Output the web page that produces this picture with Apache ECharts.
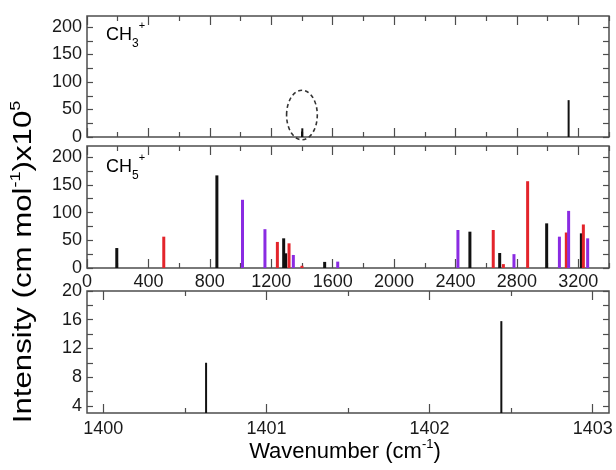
<!DOCTYPE html>
<html><head><meta charset="utf-8">
<script src="https://cdn.jsdelivr.net/npm/echarts@6/dist/echarts.min.js"></script>
<style>html,body{margin:0;padding:0;background:#fff}#c{width:616px;height:470px}</style>
</head><body><div id="c"></div>
<script>
// ---- data ----
const ch3Wavenumber = [1400.63, 1402.44, 3137];
const ch3Intensity  = [10, 15.8, 67];

const ch5BlackX  = [194, 846, 1281, 1294, 1548, 2494, 2688, 2994, 3220];
const ch5BlackY  = [36, 167, 53.5, 26.5, 11, 65.5, 27, 80.5, 62.5];
const ch5RedX    = [500, 1240, 1316, 1400, 2646, 2712, 2870, 3122, 3233];
const ch5RedY    = [56.5, 47, 44.5, 4, 68.5, 7, 156.5, 64, 78.5];
const ch5PurpleX = [1013, 1159, 1344, 1633, 2416, 2781, 3077, 3137, 3261];
const ch5PurpleY = [123, 70, 23.5, 11.5, 68.5, 25, 56.5, 103, 53.5];

const zoomWavenumber = [1400.63, 1402.44];
const zoomIntensity  = [10, 15.8];

// ---- ticks ----
const wideMajorTicks = [0, 400, 800, 1200, 1600, 2000, 2400, 2800, 3200];
const wideMinorTicks = [200, 600, 1000, 1400, 1800, 2200, 2600, 3000, 3400];
const intensityLabels = [0, 50, 100, 150, 200];
const intensityTicks  = [0, 25, 50, 75, 100, 125, 150, 175, 200];
const zoomMajorTicks = [1400, 1401, 1402, 1403];
const zoomMinorTicks = [1400.5, 1401.5, 1402.5];
const zoomYLabels = [4, 8, 12, 16, 20];
const zoomYTicks  = [4, 6, 8, 10, 12, 14, 16, 18, 20];

// ---- annotation (circled peak: centre and radii in data units) ----
const circledPeak = [[1400, 40, 100, 45]];

const FONT = '"Liberation Sans", Arial, Helvetica, sans-serif';
const FRAME = '#4d4d4d';
const TXT = '#1a1a1a';

function pairs(xs, ys) { return xs.map((x, i) => [x, ys[i]]); }

function axis(gridIndex, position, min, max, ticks, len, labels, margin) {
  return {
    type: 'value', gridIndex, position, min, max,
    axisLine: { show: false, onZero: false },
    splitLine: { show: false },
    axisTick: { show: true, inside: true, length: len, customValues: ticks,
                lineStyle: { color: FRAME, width: 1.2 } },
    axisLabel: labels ? { show: true, customValues: labels, margin: margin,
                fontSize: 18, color: TXT, fontFamily: FONT,
                formatter: v => String(v) } : { show: false }
  };
}

const xAxes = [], yAxes = [];
// grid 0 (CH3+) and grid 1 (CH5+): x 0..3400
for (let g = 0; g < 2; g++) {
  xAxes.push(axis(g, 'bottom', 0, 3400, wideMajorTicks, 9, g === 1 ? wideMajorTicks : null, 5));
  xAxes.push(axis(g, 'bottom', 0, 3400, wideMinorTicks, 5, null));
  xAxes.push(axis(g, 'top', 0, 3400, wideMajorTicks, 9, null));
  xAxes.push(axis(g, 'top', 0, 3400, wideMinorTicks, 5, null));
  yAxes.push(axis(g, 'left', 0, 220, intensityTicks, 6, intensityLabels, 5));
  yAxes.push(axis(g, 'right', 0, 220, intensityTicks, 6, null));
}
// grid 2 zoom
xAxes.push(axis(2, 'bottom', 1399.9, 1403.1, zoomMajorTicks, 9, zoomMajorTicks, 7));
xAxes.push(axis(2, 'bottom', 1399.9, 1403.1, zoomMinorTicks, 5, null));
xAxes.push(axis(2, 'top', 1399.9, 1403.1, zoomMajorTicks, 9, null));
xAxes.push(axis(2, 'top', 1399.9, 1403.1, zoomMinorTicks, 5, null));
yAxes.push(axis(2, 'left', 3, 20, zoomYTicks, 6, zoomYLabels, 5));
yAxes.push(axis(2, 'right', 3, 20, zoomYTicks, 6, null));

function bars(xi, yi, data, color, w) {
  return { type: 'bar', xAxisIndex: xi, yAxisIndex: yi, data, barWidth: w, barGap: '-100%',
           itemStyle: { color }, clip: true, silent: true };
}

const chemRich = {
  m: { fontSize: 18, lineHeight: 30, verticalAlign: 'middle', fontFamily: FONT, color: TXT },
  b: { fontSize: 12, lineHeight: 17, verticalAlign: 'bottom', fontFamily: FONT, color: TXT },
  p: { fontSize: 11, lineHeight: 11, verticalAlign: 'top', fontFamily: FONT, color: TXT }
};

const chart = echarts.init(document.getElementById('c'), null, { renderer: 'canvas' });
chart.setOption({
  animation: false,
  backgroundColor: '#fff',
  grid: [
    { left: 87, right: 7, top: 16, height: 121, show: true, borderColor: FRAME, borderWidth: 1.5 },
    { left: 87, right: 7, top: 146, height: 122, show: true, borderColor: FRAME, borderWidth: 1.5 },
    { left: 87, right: 7, top: 291, height: 122, show: true, borderColor: FRAME, borderWidth: 1.5 }
  ],
  xAxis: xAxes,
  yAxis: yAxes,
  series: [
    bars(0, 0, pairs(ch3Wavenumber, ch3Intensity), '#111', 2),
    {
      type: 'custom', xAxisIndex: 0, yAxisIndex: 0, data: circledPeak, clip: false, silent: true,
      renderItem: (params, api) => {
        const c = api.coord([api.value(0), api.value(1)]);
        const s = api.size([api.value(2), api.value(3)]);
        return { type: 'ellipse', shape: { cx: c[0], cy: c[1], rx: s[0], ry: s[1] },
                 style: { fill: null, stroke: '#333', lineWidth: 1.6, lineDash: [4, 3] } };
      }
    },
    bars(4, 2, pairs(ch5BlackX, ch5BlackY), '#111', 3),
    bars(4, 2, pairs(ch5RedX, ch5RedY), '#e3242b', 3),
    bars(4, 2, pairs(ch5PurpleX, ch5PurpleY), '#8a2be2', 3),
    bars(8, 4, pairs(zoomWavenumber, zoomIntensity), '#111', 2)
  ],
  graphic: [
    { type: 'text', x: 106, y: 35, silent: true,
      style: { text: '{m|CH}{b|3}{p|+}', rich: chemRich, align: 'left', verticalAlign: 'middle' } },
    { type: 'text', x: 106, y: 167, silent: true,
      style: { text: '{m|CH}{b|5}{p|+}', rich: chemRich, align: 'left', verticalAlign: 'middle' } },
    { type: 'text', x: 345, y: 452, silent: true,
      style: { text: '{m|Wavenumber (cm}{s|-1}{m|)}', align: 'center', verticalAlign: 'middle',
        rich: {
          m: { fontSize: 22, lineHeight: 28, verticalAlign: 'middle', fontFamily: FONT, color: TXT },
          s: { fontSize: 13, lineHeight: 13, verticalAlign: 'top', fontFamily: FONT, color: TXT }
        } } },
    { type: 'text', x: 24, y: 262, rotation: Math.PI / 2, scaleX: 1.2, silent: true,
      style: { text: '{m|Intensity (cm mol}{s|-1}{m|)x10}{s|5}', align: 'center', verticalAlign: 'middle',
        rich: {
          m: { fontSize: 26, lineHeight: 32, verticalAlign: 'middle', fontFamily: FONT, color: TXT },
          s: { fontSize: 15, lineHeight: 15, verticalAlign: 'top', fontFamily: FONT, color: TXT }
        } } }
  ]
});
</script>
</body></html>
